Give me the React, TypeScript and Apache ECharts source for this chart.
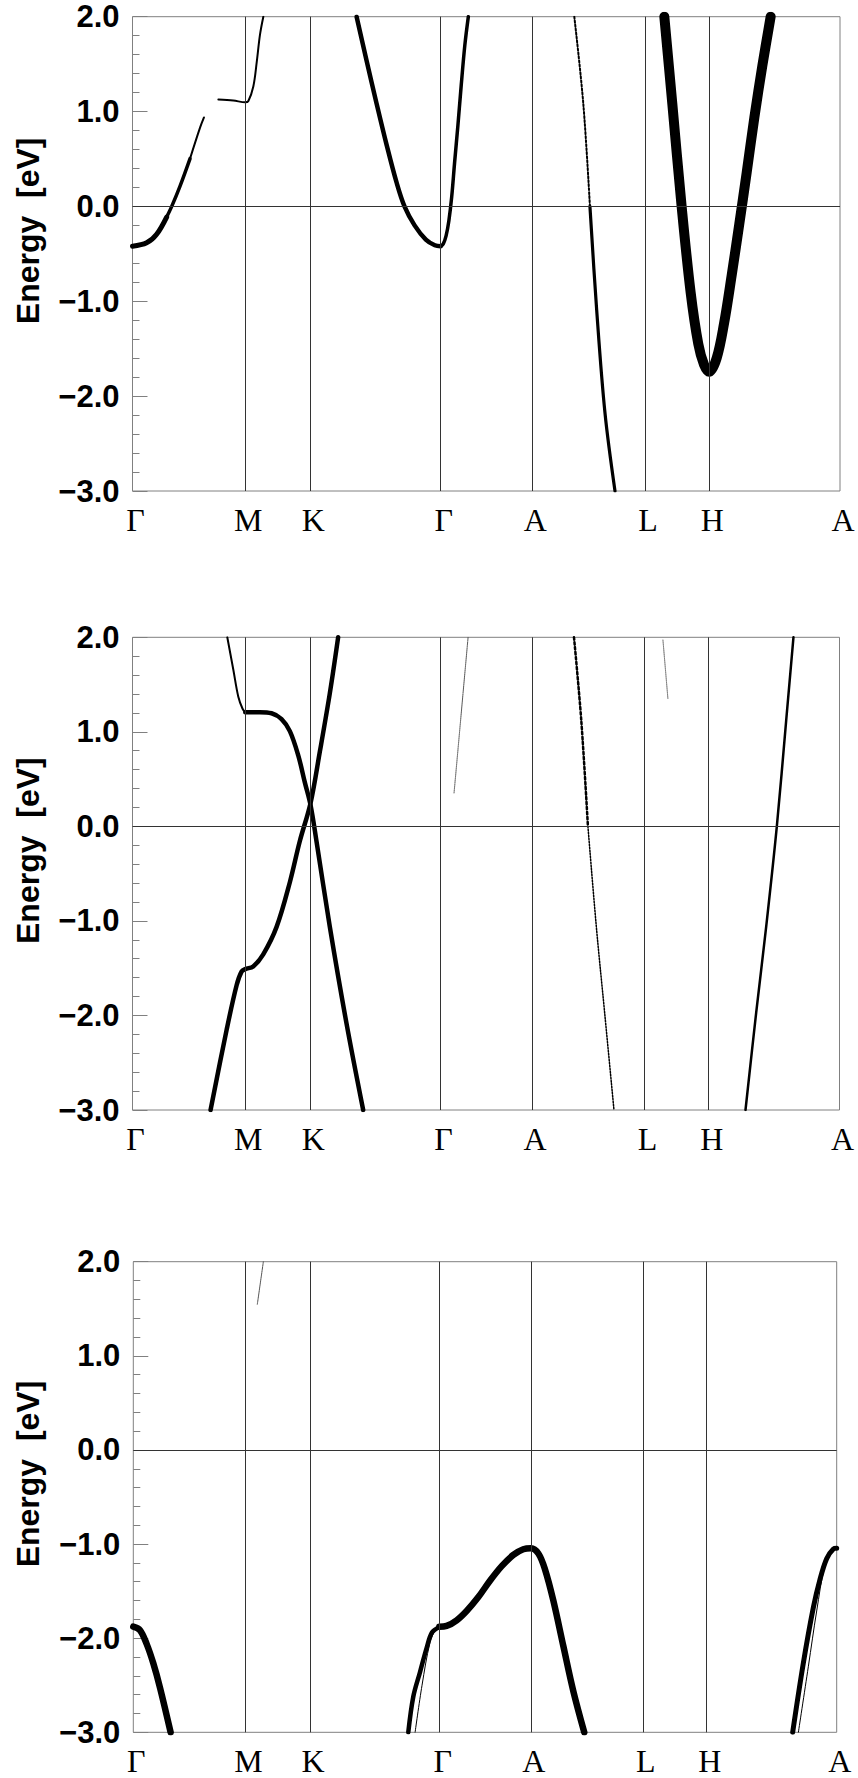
import React, { useEffect, useRef } from "react";
import * as echarts from "echarts";

// ---- k-path (x axis) ----
const kTicks = [0, 1.004, 1.582, 2.742, 3.557, 4.56, 5.132, 6.295];
const kLabels = ["Γ", "M", "K", "Γ", "A", "L", "H", "A"];
const yMin = -3;
const yMax = 2;

// ---- panel 1 bands [k, E] ----
const p1GammaM1 = [[0, -0.42], [0.126, -0.384], [0.215, -0.293], [0.304, -0.112]];
const p1GammaM2 = [[0.304, -0.112], [0.349, 0.0], [0.423, 0.214], [0.512, 0.504]];
const p1GammaM3 = [[0.512, 0.504], [0.601, 0.83], [0.636, 0.938]];
const p1MUp = [[0.764, 1.127], [0.897, 1.116], [1.004, 1.098], [1.031, 1.112], [1.075, 1.264], [1.105, 1.518], [1.134, 1.808], [1.164, 2.0]];
const p1GammaLeft = [[1.994, 2.0], [2.083, 1.536], [2.172, 1.083], [2.261, 0.649], [2.35, 0.25], [2.42, 0.0], [2.51, -0.2], [2.61, -0.35], [2.69, -0.41], [2.742, -0.42]];
const p1GammaRight = [[2.742, -0.42], [2.765, -0.395], [2.79, -0.31], [2.815, -0.15], [2.84, 0.1], [2.865, 0.45], [2.895, 0.85], [2.925, 1.28], [2.957, 1.7], [2.988, 2.0]];
const p1ALTop = [[3.931, 2.0], [4.011, 1.083], [4.07, 0.0]];
const p1ALLow = [[4.07, 0.0], [4.13, -1.09], [4.204, -2.178], [4.293, -3.0]];
const p1HArms = [[4.732, 2.0], [4.803, 1.083], [4.886, 0.0], [4.966, -0.906], [5.034, -1.449], [5.085, -1.667], [5.132, -1.743], [5.198, -1.598], [5.263, -1.236], [5.331, -0.728], [5.399, -0.185], [5.465, 0.359], [5.533, 0.938], [5.604, 1.482], [5.678, 2.0]];

// ---- panel 2 bands ----
const p2UpperTop = [[0.844, 2.0], [0.897, 1.662], [0.942, 1.371], [0.98, 1.244], [1.004, 1.208]];
const p2UpperMK = [[1.004, 1.208], [1.134, 1.208], [1.238, 1.197], [1.327, 1.135], [1.401, 1.008], [1.475, 0.754], [1.535, 0.463], [1.585, 0.227], [1.638, -0.155], [1.757, -1.063], [1.905, -2.081], [2.054, -3.0]];
const p2Lower = [[0.695, -3.0], [0.838, -2.153], [0.927, -1.681], [0.971, -1.536], [1.004, -1.51], [1.075, -1.481], [1.164, -1.354], [1.283, -1.063], [1.401, -0.591], [1.49, -0.155], [1.585, 0.245], [1.668, 0.79], [1.757, 1.408], [1.831, 2.0]];
const p2GammaDots = [[2.863, 0.354], [2.899, 0.826], [2.943, 1.408], [2.988, 2.0]];
const p2ALTop = [[3.931, 2.0], [3.996, 1.117], [4.055, 0.0]];
const p2ALLow = [[4.055, 0.0], [4.13, -1.063], [4.204, -1.972], [4.287, -3.0]];
const p2LDots = [[4.723, 1.971], [4.767, 1.353]];
const p2HA = [[5.458, -3.0], [5.553, -1.972], [5.642, -1.063], [5.737, 0.0], [5.82, 1.117], [5.885, 2.0]];

// ---- panel 3 bands ----
const p3MDots = [[1.11, 1.548], [1.164, 2.0]];
const p3GammaM = [[0, -1.878], [0.06, -1.915], [0.12, -2.063], [0.179, -2.267], [0.239, -2.526], [0.334, -3.0]];
const p3KGamma = [[2.461, -3.0], [2.506, -2.62], [2.566, -2.36], [2.626, -2.1], [2.673, -1.94], [2.739, -1.88]];
const p3KGammaThin = [[2.522, -3.0], [2.584, -2.5], [2.655, -2.05], [2.709, -1.9], [2.739, -1.88]];
const p3GammaA = [[2.739, -1.878], [2.804, -1.87], [2.894, -1.81], [2.983, -1.711], [3.088, -1.563], [3.192, -1.39], [3.297, -1.235], [3.401, -1.115], [3.49, -1.055], [3.559, -1.044], [3.625, -1.1], [3.684, -1.267], [3.759, -1.6], [3.848, -2.081], [3.938, -2.563], [4.036, -3.0]];
const p3HA = [[5.901, -3.0], [5.996, -2.267], [6.086, -1.674], [6.145, -1.378], [6.205, -1.156], [6.265, -1.052], [6.295, -1.044]];
const p3HAThin = [[5.952, -3.0], [6.041, -2.304], [6.116, -1.711], [6.19, -1.23], [6.265, -1.052]];

type BandSpec = { panel: number; data: number[][]; width: number; dotted?: boolean; color?: string };

const bandSpecs: BandSpec[] = [
  { panel: 0, data: p1GammaM1, width: 5 },
  { panel: 0, data: p1GammaM2, width: 3.5 },
  { panel: 0, data: p1GammaM3, width: 2 },
  { panel: 0, data: p1MUp, width: 2 },
  { panel: 0, data: p1GammaLeft, width: 4.5 },
  { panel: 0, data: p1GammaRight, width: 3.5 },
  { panel: 0, data: p1ALTop, width: 2, dotted: true },
  { panel: 0, data: p1ALLow, width: 3.2 },
  { panel: 0, data: p1HArms, width: 10 },
  { panel: 1, data: p2UpperTop, width: 2 },
  { panel: 1, data: p2UpperMK, width: 4.5 },
  { panel: 1, data: p2Lower, width: 4.5 },
  { panel: 1, data: p2GammaDots, width: 1, dotted: true, color: "#444" },
  { panel: 1, data: p2ALTop, width: 2.5, dotted: true },
  { panel: 1, data: p2ALLow, width: 1.5, dotted: true },
  { panel: 1, data: p2LDots, width: 1, dotted: true, color: "#555" },
  { panel: 1, data: p2HA, width: 2.5 },
  { panel: 2, data: p3MDots, width: 1, dotted: true, color: "#444" },
  { panel: 2, data: p3GammaM, width: 6.5 },
  { panel: 2, data: p3KGamma, width: 4.5 },
  { panel: 2, data: p3KGammaThin, width: 1 },
  { panel: 2, data: p3GammaA, width: 6.5 },
  { panel: 2, data: p3HA, width: 5 },
  { panel: 2, data: p3HAThin, width: 1 },
];

const grids = [
  { left: 132.5, top: 16.7, width: 707.5, height: 474.3 },
  { left: 132.5, top: 637.3, width: 707, height: 472.7 },
  { left: 133.3, top: 1261.7, width: 703.4, height: 470.6 },
];

function fmtY(v: number) {
  return (v < 0 ? "\u2212" : "") + Math.abs(v).toFixed(1);
}

function kLabel(v: number) {
  const i = kTicks.findIndex((t) => Math.abs(t - v) < 1e-6);
  return i >= 0 ? kLabels[i] : "";
}

export default function App() {
  const ref = useRef<HTMLDivElement>(null);
  useEffect(() => {
    if (!ref.current) return;
    const chart = echarts.init(ref.current, null, { renderer: "svg" });
    const frame = "#808080";
    const inner = "#333333";

    const xAxis = grids.map((_, i) => ({
      type: "value",
      gridIndex: i,
      min: kTicks[0],
      max: kTicks[kTicks.length - 1],
      axisLine: { show: false },
      axisTick: { show: false },
      splitLine: { show: false },
      axisLabel: {
        customValues: kTicks,
        formatter: (v: number) => kLabel(v),
        fontFamily: "Liberation Serif",
        fontSize: 32,
        color: "#000",
        margin: 13,
        padding: [0, 0, 0, 6],
      },
    }));

    const yAxis = grids.map((_, i) => ({
      type: "value",
      gridIndex: i,
      min: yMin,
      max: yMax,
      interval: 1,
      name: "Energy  [eV]",
      nameLocation: "middle",
      nameGap: 89,
      nameTextStyle: {
        fontFamily: "Liberation Sans",
        fontWeight: "bold",
        fontSize: 32,
        color: "#000",
        padding: [0, 0, 0, 46],
      },
      axisLine: { show: false },
      axisTick: { show: true, inside: true, length: 15, lineStyle: { color: frame, width: 1 } },
      minorTick: { show: true, splitNumber: 5, length: 7, lineStyle: { color: frame, width: 1 } },
      splitLine: { show: false },
      axisLabel: {
        formatter: (v: number) => fmtY(v),
        fontFamily: "Liberation Sans",
        fontWeight: "bold",
        fontSize: 31,
        color: "#000",
        margin: 13,
      },
    }));

    const series: any[] = [];
    grids.forEach((_, p) => {
      series.push({
        type: "line",
        xAxisIndex: p,
        yAxisIndex: p,
        data: [],
        silent: true,
        markLine: {
          silent: true,
          symbol: ["none", "none"],
          label: { show: false },
          lineStyle: { color: inner, width: 1, type: "solid" },
          data: [
            ...kTicks.slice(1, -1).map((v) => ({ xAxis: v })),
            { yAxis: 0 },
          ],
        },
      });
    });
    bandSpecs.forEach((b) => {
      series.push({
        type: "line",
        xAxisIndex: b.panel,
        yAxisIndex: b.panel,
        data: b.data,
        showSymbol: false,
        smooth: 0.35,
        silent: true,
        z: 3,
        lineStyle: {
          color: b.color || "#000",
          width: b.width,
          type: b.dotted ? "dotted" : "solid",
          cap: "round",
          join: "round",
        },
      });
    });

    chart.setOption({
      animation: false,
      grid: grids.map((g) => ({
        ...g,
        show: true,
        borderColor: frame,
        borderWidth: 1,
        backgroundColor: "transparent",
        containLabel: false,
      })),
      xAxis,
      yAxis,
      series,
    } as any);
    return () => chart.dispose();
  }, []);
  return (
    <div
      ref={ref}
      style={{ position: "absolute", left: 0, top: 0, width: 858, height: 1778, background: "#fff" }}
    />
  );
}
